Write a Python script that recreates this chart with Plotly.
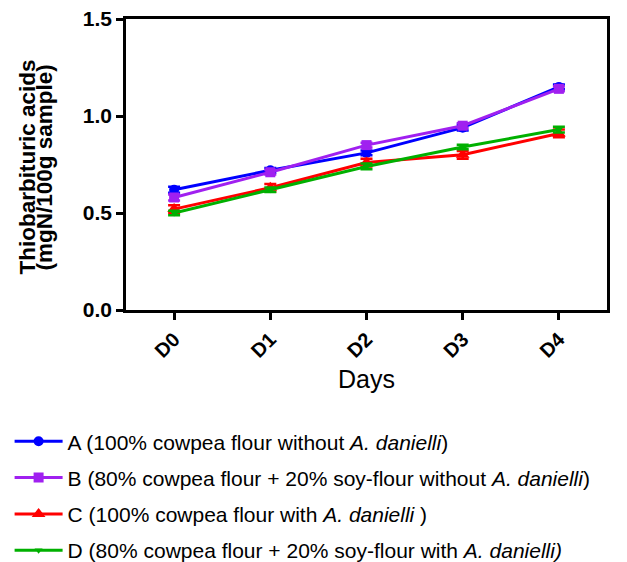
import plotly.graph_objects as go

days = ["D0", "D1", "D2", "D3", "D4"]
a_vals = [0.62, 0.72, 0.81, 0.94, 1.15]
b_vals = [0.58, 0.71, 0.85, 0.95, 1.14]
c_vals = [0.52, 0.63, 0.76, 0.80, 0.91]
d_vals = [0.50, 0.62, 0.74, 0.84, 0.93]
a_err = [0.015, 0.012, 0.012, 0.015, 0.012]
b_err = [0.015, 0.012, 0.012, 0.012, 0.012]
c_err = [0.02, 0.02, 0.02, 0.02, 0.02]
d_err = [0.012, 0.012, 0.015, 0.012, 0.015]

names = [
    "A (100% cowpea flour without <i>A. danielli</i>)",
    "B (80% cowpea flour + 20% soy-flour without <i>A. danielli</i>)",
    "C (100% cowpea flour with <i>A. danielli</i> )",
    "D (80% cowpea flour + 20% soy-flour with <i>A. danielli)</i>",
]
y_title_lines = ["Thiobarbituric acids", "(mgN/100g sample)"]
colors = ["#0000ff", "#a020f0", "#ff0000", "#00b000"]
symbols = ["circle", "square", "triangle-up", "triangle-down"]
sizes = [10, 10, 12, 7]
series = [a_vals, b_vals, c_vals, d_vals]
errs = [a_err, b_err, c_err, d_err]

fig = go.Figure()
for i in range(4):
    fig.add_trace(go.Scatter(
        x=days, y=series[i], name=names[i], mode="lines+markers",
        line=dict(color=colors[i], width=3),
        marker=dict(symbol=symbols[i], size=sizes[i], color=colors[i]),
        error_y=dict(type="data", array=errs[i], color=colors[i], thickness=2.5, width=6),
        legendgroup=str(i),
    ))

font_family = "Arial, Liberation Sans, sans-serif"

for k, line in enumerate(y_title_lines):
    fig.add_annotation(
        text=line, textangle=-90, showarrow=False,
        xref="paper", yref="paper", x=0, y=0.5,
        xanchor="center", yanchor="middle",
        xshift=-(126 - 27) + k * 17, yshift=-3,
        font=dict(size=22.5, family=font_family, weight="bold", color="black"),
    )

fig.update_layout(
    width=619, height=554,
    margin=dict(l=118, r=20, t=11, b=252, autoexpand=False),
    plot_bgcolor="white", paper_bgcolor="white",
    font=dict(family=font_family, color="black"),
    showlegend=True,
    legend=dict(
        x=-0.242, xanchor="left", y=-0.382, yanchor="top",
        font=dict(size=21, family=font_family, color="black"),
        traceorder="grouped", tracegroupgap=6,
        itemwidth=48,
    ),
    xaxis=dict(
        type="category", range=[-0.5, 4.5],
        showline=True, linecolor="black", linewidth=2.5, mirror=True,
        ticks="outside", ticklen=7, tickwidth=2.5, tickcolor="black",
        tickangle=-45, ticklabeloverflow="allow",
        tickfont=dict(size=20, family=font_family, weight="bold"),
        title=dict(text="Days", font=dict(size=25, family=font_family), standoff=10),
        showgrid=False, zeroline=False, automargin=False,
    ),
    yaxis=dict(
        range=[0, 1.5], tickvals=[0, 0.5, 1.0, 1.5], ticktext=["0.0", "0.5", "1.0", "1.5"],
        showline=True, linecolor="black", linewidth=2.5, mirror=True,
        ticks="outside", ticklen=7, tickwidth=2.5, tickcolor="black",
        ticklabeloverflow="allow",
        tickfont=dict(size=21, family=font_family, weight="bold"),
        showgrid=False, zeroline=False, automargin=False,
    ),
)

fig.write_html("out.html")
